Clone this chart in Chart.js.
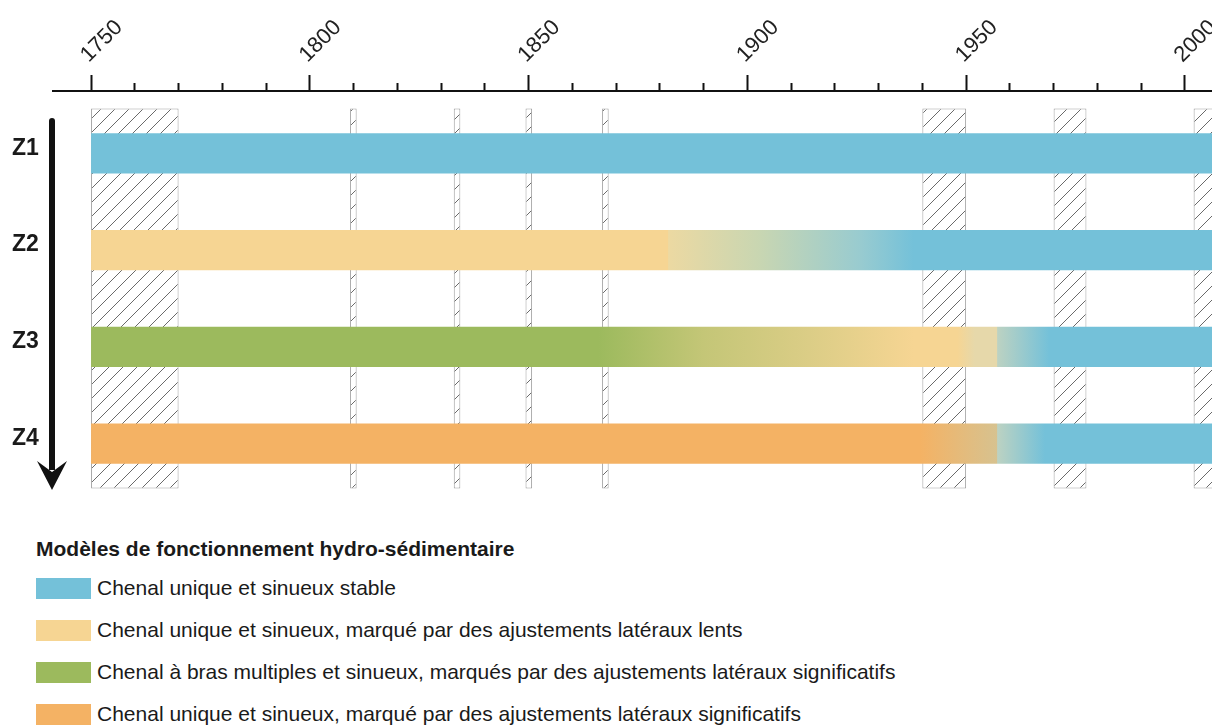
<!DOCTYPE html>
<html><head><meta charset="utf-8">
<script src="https://cdn.jsdelivr.net/npm/chart.js@4.4.1/dist/chart.umd.min.js"></script>
<style>
body{margin:0;background:#fff;width:1212px;height:727px;overflow:hidden;font-family:"Liberation Sans",Arial,sans-serif;}
#wrap{position:absolute;left:0;top:0;width:1212px;height:510px;}
#legend{position:absolute;left:36px;top:536px;color:#1a1a1a;}
.lt{font-weight:bold;font-size:21px;height:26px;line-height:26px;margin-bottom:5px;white-space:nowrap;}
.li{display:flex;align-items:center;height:42px;font-size:21px;white-space:nowrap;}
.sw{width:55px;height:21px;margin-right:6px;flex:none;}
</style></head>
<body>
<div id="wrap"><canvas id="c"></canvas></div>
<div id="legend"></div>
<script>
// ---- data ----
const zones = ['Z1', 'Z2', 'Z3', 'Z4'];
const periodStart = [1750, 1750, 1750, 1750];
const periodEnd = [2010, 2010, 2010, 2010];

// transitions between hydro-sedimentary models (years) and the state at each year
const z1Years = [1750, 2010];
const z1States = ['stable', 'stable'];
const z2Years = [1750, 1881.8, 1882, 1903, 1926, 1938, 2010];
const z2States = ['lent', 'lent', 'lentPale', 'mixLB', 'mixTeal', 'stable', 'stable'];
const z3Years = [1750, 1866, 1890, 1914, 1938, 1948, 1952, 1957, 1957.2, 1969, 2010];
const z3States = ['multiple', 'multiple', 'green2', 'green3', 'lent', 'lent', 'paleLG', 'paleLG', 'grayTeal', 'stable', 'stable'];
const z4Years = [1750, 1939.5, 1957, 1957.2, 1968, 2010];
const z4States = ['significatif', 'significatif', 'tan', 'grayTeal', 'stable', 'stable'];

// photo / map dates (hatched periods)
const hatchStart = [1750, 1809.2, 1832.9, 1849.3, 1866.8, 1940, 1970, 2002];
const hatchEnd = [1770, 1810.7, 1834.4, 1850.8, 1868.3, 1950, 1977.5, 2012];

const tickYears = [1750, 1800, 1850, 1900, 1950, 2000];

const legendTitle = 'Modèles de fonctionnement hydro-sédimentaire';
const legendKeys = ['stable', 'lent', 'multiple', 'significatif'];
const legendLabels = [
  'Chenal unique et sinueux stable',
  'Chenal unique et sinueux, marqué par des ajustements latéraux lents',
  'Chenal à bras multiples et sinueux, marqués par des ajustements latéraux significatifs',
  'Chenal unique et sinueux, marqué par des ajustements latéraux significatifs'
];

// ---- styles ----
const palette = {
  stable: '#74c1d9', lent: '#f6d593', multiple: '#9cba5d', significatif: '#f4b264',
  lentPale: '#ecd9a2', mixLB: '#c8d6b2', mixTeal: '#98cbd0',
  green2: '#c4c677', green3: '#dbcd86', paleLG: '#e6d8aa', grayTeal: '#bcd2c2', tan: '#d7c28f'
};
const zoneYears = [z1Years, z2Years, z3Years, z4Years];
const zoneStates = [z1States, z2States, z3States, z4States];
const FONT = '"Liberation Sans", Arial, sans-serif';

function makeHatch() {
  const s = 14, c = document.createElement('canvas');
  c.width = s; c.height = s;
  const g = c.getContext('2d');
  g.fillStyle = '#ffffff'; g.fillRect(0, 0, s, s);
  g.strokeStyle = '#6a6a6a'; g.lineWidth = 1;
  g.beginPath();
  g.moveTo(-1, s + 1); g.lineTo(s + 1, -1);
  g.moveTo(-1, 1); g.lineTo(1, -1);
  g.moveTo(s - 1, s + 1); g.lineTo(s + 1, s - 1);
  g.stroke();
  return g.createPattern(c, 'repeat');
}
const hatch = makeHatch();

function zoneGradient(ctx) {
  const chart = ctx.chart, xs = chart.scales.x;
  if (!xs || ctx.dataIndex === undefined || !chart.chartArea) return palette.stable;
  const years = zoneYears[ctx.dataIndex], states = zoneStates[ctx.dataIndex];
  const p0 = xs.getPixelForValue(years[0]), p1 = xs.getPixelForValue(years[years.length - 1]);
  const g = chart.ctx.createLinearGradient(p0, 0, p1, 0);
  years.forEach((y, k) => g.addColorStop(Math.min(1, Math.max(0, (xs.getPixelForValue(y) - p0) / (p1 - p0))), palette[states[k]]));
  return g;
}

const arrowPlugin = {
  id: 'arrow',
  afterDraw(chart) {
    const {ctx, chartArea: a} = chart;
    const x = a.left - 1, y0 = a.top + 13, tip = a.bottom - 2;
    ctx.save();
    ctx.fillStyle = '#111';
    ctx.beginPath();
    ctx.moveTo(x - 3, tip - 20); ctx.lineTo(x - 3, y0 + 3);
    ctx.arc(x, y0 + 3, 3, Math.PI, 0);
    ctx.lineTo(x + 3, tip - 20); ctx.closePath(); ctx.fill();
    ctx.beginPath();
    ctx.moveTo(x, tip); ctx.lineTo(x - 15, tip - 29); ctx.lineTo(x, tip - 18); ctx.lineTo(x + 15, tip - 29);
    ctx.closePath(); ctx.fill();
    ctx.restore();
  }
};

const datasets = [{
  label: 'zones',
  data: zones.map((z, i) => [periodStart[i], periodEnd[i]]),
  backgroundColor: zoneGradient,
  borderWidth: 0,
  grouped: false,
  barPercentage: 0.414,
  categoryPercentage: 1,
  xAxisID: 'x', yAxisID: 'y',
  order: 1
}].concat(hatchStart.map((s, i) => ({
  label: 'photo' + i,
  data: [[s, hatchEnd[i]]],
  backgroundColor: hatch,
  borderColor: '#a0a0a0',
  borderWidth: 1,
  borderSkipped: false,
  grouped: false,
  barPercentage: 0.982,
  categoryPercentage: 1,
  xAxisID: 'x', yAxisID: 'yh',
  order: 2
})));

new Chart(document.getElementById('c'), {
  type: 'bar',
  data: {labels: zones, datasets},
  plugins: [arrowPlugin],
  options: {
    indexAxis: 'y',
    responsive: true, maintainAspectRatio: false, animation: false,
    layout: {padding: {left: 12, right: 0, top: 0, bottom: 18}},
    plugins: {legend: {display: false}, tooltip: {enabled: false}},
    scales: {
      x: {
        type: 'linear', position: 'top', min: 1741.3, max: 2006.2, weight: 1,
        grid: {
          drawOnChartArea: false, tickLength: 16, tickColor: '#111', tickWidth: 2,
          tickBorderDash: c => (tickYears.includes(c.tick && c.tick.value) ? [] : [8, 8]),
          tickBorderDashOffset: c => (tickYears.includes(c.tick && c.tick.value) ? 0 : 8)
        },
        border: {color: '#111', width: 2},
        ticks: {
          stepSize: 10, includeBounds: false, autoSkip: false, minRotation: 45, maxRotation: 45,
          padding: 7, labelOffset: 12, color: '#222', font: {size: 22, family: FONT},
          callback: v => (tickYears.includes(v) ? String(v) : '')
        },
        afterFit(s) { s.height = 91; s.paddingLeft = 0; s.paddingRight = 0; }
      },
      xgap: {
        type: 'linear', position: 'top', weight: 0, display: true,
        grid: {display: false}, border: {display: false}, ticks: {display: false},
        afterFit(s) { s.height = 14; s.paddingLeft = 0; s.paddingRight = 0; }
      },
      y: {
        type: 'category', position: 'left',
        grid: {display: false}, border: {display: false},
        ticks: {color: '#1a1a1a', font: {size: 23, weight: 'bold', family: FONT}, crossAlign: 'far', labelOffset: -5, padding: 0},
        afterFit(s) { s.width = 41; s.paddingTop = 0; s.paddingBottom = 0; }
      },
      yh: {type: 'category', labels: ['photos'], display: false}
    }
  }
});

// legend
const lg = document.getElementById('legend');
const t = document.createElement('div'); t.className = 'lt'; t.textContent = legendTitle; lg.appendChild(t);
legendLabels.forEach((txt, i) => {
  const row = document.createElement('div'); row.className = 'li';
  const sw = document.createElement('div'); sw.className = 'sw'; sw.style.background = palette[legendKeys[i]];
  const sp = document.createElement('span'); sp.textContent = txt;
  row.appendChild(sw); row.appendChild(sp); lg.appendChild(row);
});
</script>
</body></html>
